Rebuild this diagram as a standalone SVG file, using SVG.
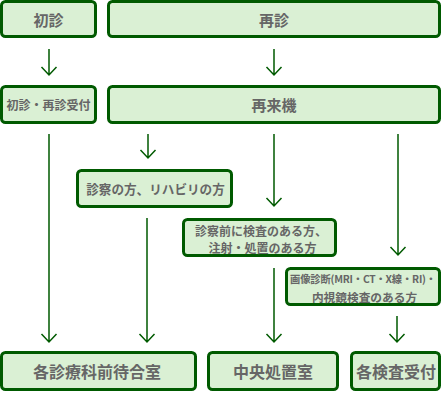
<svg xmlns="http://www.w3.org/2000/svg" width="442" height="404" viewBox="0 0 442 404">
<defs>
<style>
.box{fill:#daf0d4;stroke:#005a00;stroke-width:3}
.t{font-family:"Noto Sans CJK JP","Noto Sans",sans-serif;font-weight:bold;fill:#666;text-anchor:middle;dominant-baseline:central}
.c{stroke:#005a00;stroke-width:1.5;fill:none}
</style>
</defs>
<rect width="442" height="404" fill="#fff"/>
<g id="connectors">
<path class="c" d="M49 49V75M41.5 67L49 75L56.5 67"/>
<path class="c" d="M274 49V75M266.5 67L274 75L281.5 67"/>
<path class="c" d="M49 134V342M41.5 334L49 342L56.5 334"/>
<path class="c" d="M148 134V158M140.5 150L148 158L155.5 150"/>
<path class="c" d="M147 218V342M139.5 334L147 342L154.5 334"/>
<path class="c" d="M274 134V206M266.5 198L274 206L281.5 198"/>
<path class="c" d="M274 268V342M266.5 334L274 342L281.5 334"/>
<path class="c" d="M398 134V255M390.5 247L398 255L405.5 247"/>
<path class="c" d="M397 316V342M389.5 334L397 342L404.5 334"/>
</g>
<g id="shoshin"><rect class="box" x="1.5" y="1.5" width="94" height="35" rx="4"/><text class="t" x="48.5" y="19" font-size="15">初診</text></g>
<g id="saishin"><rect class="box" x="108.5" y="1.5" width="331" height="35" rx="4"/><text class="t" x="274" y="19" font-size="15">再診</text></g>
<g id="uketsuke"><rect class="box" x="1.5" y="86.5" width="94" height="36" rx="4"/><text class="t" x="48.5" y="104.5" font-size="12" font-weight="normal">初診・再診受付</text></g>
<g id="saiaiki"><rect class="box" x="108.5" y="86.5" width="331" height="36" rx="4"/><text class="t" x="274" y="104.5" font-size="15">再来機</text></g>
<g id="shinsatsu"><rect class="box" x="77.5" y="170.5" width="154" height="36" rx="4"/><text class="t" x="155.5" y="188.5" font-size="12.6">診察の方、リハビリの方</text></g>
<g id="kensa"><rect class="box" x="183.5" y="219.5" width="152" height="36" rx="4"/><text class="t" x="261" y="230" font-size="12" font-weight="normal">診察前に検査のある方、</text><text class="t" x="262.5" y="247" font-size="12" font-weight="normal">注射・処置のある方</text></g>
<g id="gazou"><rect class="box" x="286.5" y="268.5" width="153" height="36" rx="4"/><text class="t" x="363" y="278" font-size="10.3" font-weight="normal" letter-spacing="-0.2">画像診断(MRI・CT・X線・RI)・</text><text class="t" x="364.5" y="296" font-size="11.7" font-weight="normal">内視鏡検査のある方</text></g>
<g id="machiai"><rect class="box" x="1.5" y="352.5" width="194" height="37" rx="4"/><text class="t" x="97" y="371" font-size="16">各診療科前待合室</text></g>
<g id="chuou"><rect class="box" x="208.5" y="352.5" width="129" height="37" rx="4"/><text class="t" x="273" y="371" font-size="16">中央処置室</text></g>
<g id="kakukensa"><rect class="box" x="351.5" y="352.5" width="88" height="37" rx="4"/><text class="t" x="396" y="371" font-size="16">各検査受付</text></g>
</svg>
